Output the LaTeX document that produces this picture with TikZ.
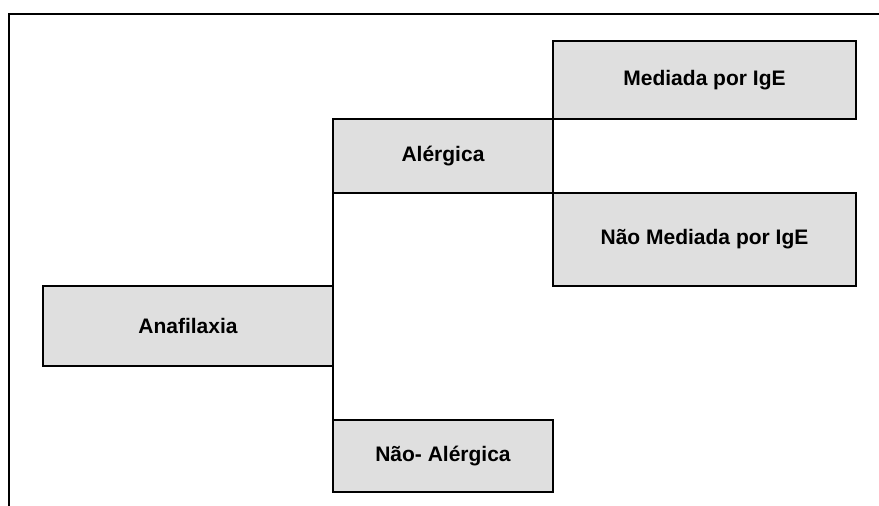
\documentclass[tikz,border=0pt]{standalone}
\usepackage{fontspec}
\setmainfont{Liberation Sans}
\usetikzlibrary{positioning}
\definecolor{my_gray}{RGB}{223, 223, 223}
\tikzset {
  box/.style = {draw, line width=2pt, fill=my_gray, rectangle, outer sep=0pt, text centered,
    font=\fontsize{21}{25}\selectfont\bfseries},
  link/.style = {draw, line width=2pt, color=black},
  frame/.style = {line width=2pt, color=black}
}

\begin{document}
\begin{tikzpicture}[x=1pt, y=1pt]

    \useasboundingbox (0,0) rectangle (879,-506);
    % page frame (top and left edges only)
    \draw[frame] (8.5,-506) -- (8.5,-14) -- (879,-14);

    \node[box, minimum width=290pt, minimum height=80pt, anchor=north west] (ana) at (43,-286) {Anafilaxia};
    \node[box, minimum width=220pt, minimum height=74pt, above right=93pt and 0pt of ana.north east] (ale) {Alérgica};
    \node[box, minimum width=220pt, minimum height=72pt, below right=54pt and 0pt of ana.south east] (nale) {Não- Alérgica};
    \node[box, minimum width=303pt, minimum height=78pt, above right=0pt and 0pt of ale.north east] (med) {Mediada por IgE};
    \node[box, minimum width=303pt, minimum height=93pt, below right=0pt and 0pt of ale.south east] (nmed) {Não Mediada por IgE};

    \draw[link] (ale.south west) -- (nale.north west);

\end{tikzpicture}
\end{document}
